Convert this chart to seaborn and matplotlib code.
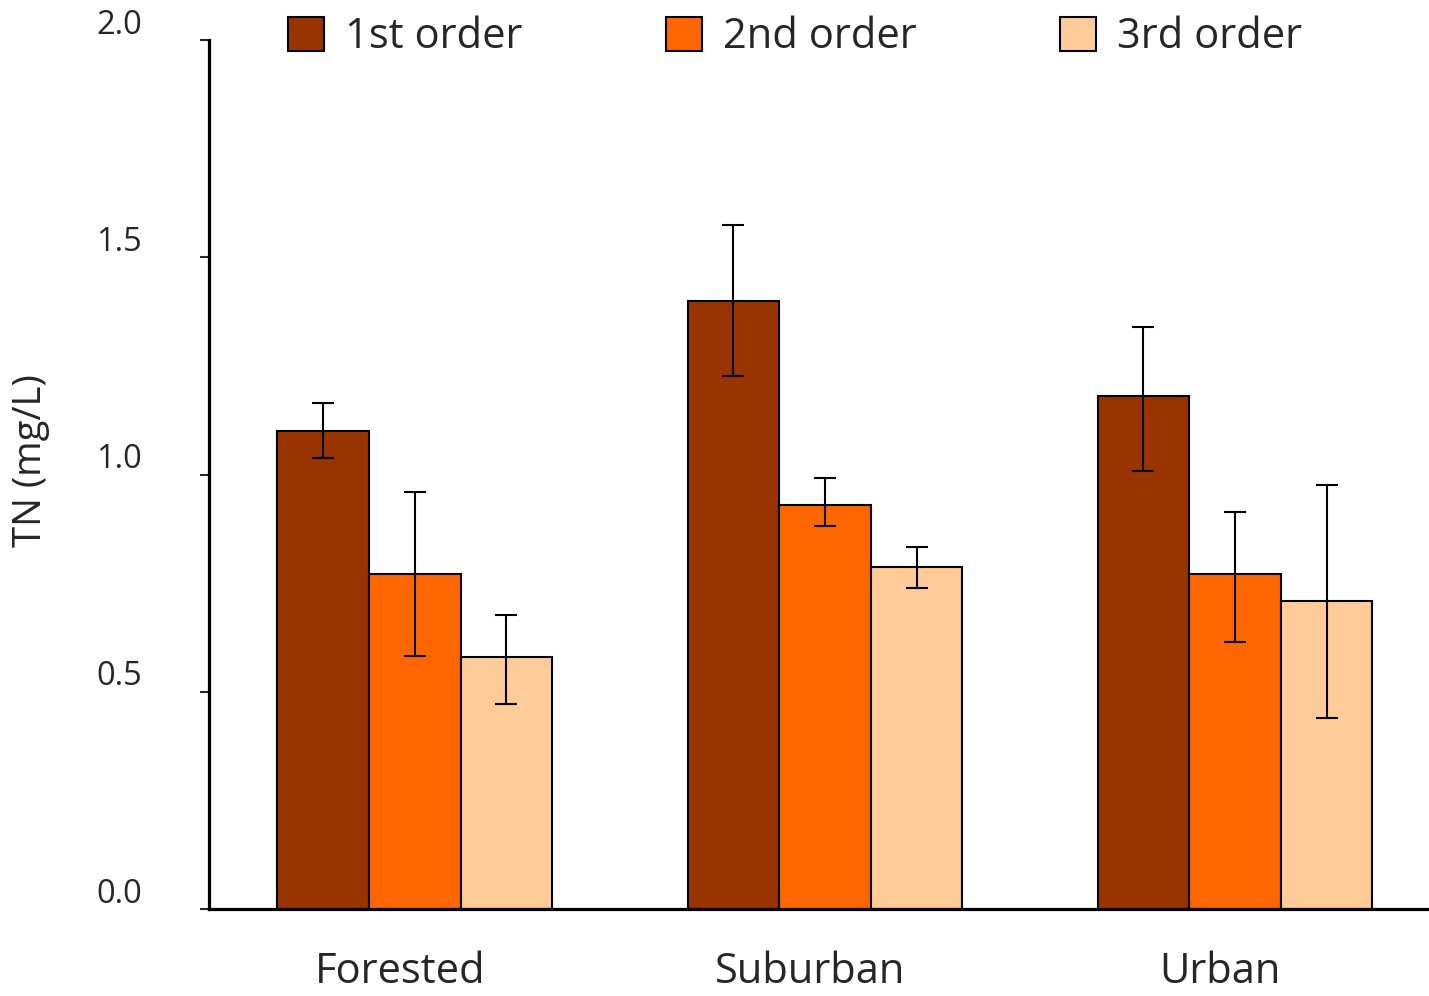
import numpy as np
import pandas as pd
import matplotlib
matplotlib.use("Agg")
import matplotlib.pyplot as plt
import seaborn as sns
from matplotlib.patches import Patch
from matplotlib.transforms import ScaledTranslation

# ---- data ----
land_use = ["Forested", "Suburban", "Urban"]
orders = ["1st order", "2nd order", "3rd order"]
tn_1st = [1.10, 1.40, 1.18]
tn_2nd = [0.77, 0.93, 0.77]
tn_3rd = [0.58, 0.787, 0.709]
err_hi_1st = [1.165, 1.574, 1.339]
err_lo_1st = [1.038, 1.227, 1.008]
err_hi_2nd = [0.960, 0.992, 0.914]
err_lo_2nd = [0.582, 0.881, 0.614]
err_hi_3rd = [0.677, 0.833, 0.976]
err_lo_3rd = [0.472, 0.739, 0.440]
colors = ["#993300", "#FF6600", "#FFCC99"]
yticks = [0.0, 0.5, 1.0, 1.5, 2.0]
ytick_labels = ["0.0", "0.5", "1.0", "1.5", "2.0"]

values = [tn_1st, tn_2nd, tn_3rd]
his = [err_hi_1st, err_hi_2nd, err_hi_3rd]
los = [err_lo_1st, err_lo_2nd, err_lo_3rd]

rows = []
for o, vals in zip(orders, values):
    for lu, v in zip(land_use, vals):
        rows.append({"Land use": lu, "Order": o, "TN": v})
df = pd.DataFrame(rows)

sns.set_style("white")
FONT = ["Open Sans", "DejaVu Sans"]
plt.rcParams["font.family"] = FONT

fig = plt.figure(figsize=(14.29, 9.96), dpi=100)
ax = fig.add_axes([209 / 1429, 1 - 909 / 996, 1 - 209 / 1429, (909 - 40) / 996])

sns.barplot(data=df, x="Land use", y="TN", hue="Order", order=land_use,
            hue_order=orders, palette=colors, width=0.67, gap=0,
            edgecolor="black", linewidth=1.5, errorbar=None, saturation=1,
            ax=ax, legend=False)

for cont, vals, hi, lo in zip(ax.containers, values, his, los):
    xs = [b.get_x() + b.get_width() / 2 for b in cont]
    yerr = np.array([np.array(vals) - np.array(lo), np.array(hi) - np.array(vals)])
    ax.errorbar(xs, vals, yerr=yerr, fmt="none", ecolor="black",
                elinewidth=1.5, capsize=8, capthick=1.5, zorder=5)

ax.set_xlim(-0.502, 2.473)
ax.set_ylim(0, 2.0)
ax.set_yticks(yticks)
ax.set_yticklabels(ytick_labels, fontsize=23.5)
ax.tick_params(axis="y", direction="out", length=6.5, width=1.5, pad=42, left=True)
ax.tick_params(axis="x", length=0, pad=30, labelsize=30)
ax.set_xlabel("")
ax.set_ylabel("TN (mg/L)", fontsize=27.5)
ax.yaxis.set_label_coords(-0.1303, 0.5155)

for side in ["top", "right"]:
    ax.spines[side].set_visible(False)
for side in ["left", "bottom"]:
    ax.spines[side].set_linewidth(2.3)
    ax.spines[side].set_color("black")

off_y = ScaledTranslation(0, 19 / 100, fig.dpi_scale_trans)
for lab in ax.get_yticklabels():
    lab.set_transform(lab.get_transform() + off_y)
off_x = ScaledTranslation(-15 / 100, 0, fig.dpi_scale_trans)
for lab in ax.get_xticklabels():
    lab.set_transform(lab.get_transform() + off_x)

handles = [Patch(facecolor=c, edgecolor="black", linewidth=1.5) for c in colors]
fig.legend(handles, orders, ncol=3, loc="upper left",
           bbox_to_anchor=(275 / 1429, 1 - 4 / 996), frameon=False,
           fontsize=30, handlelength=0.87, handleheight=0.87,
           handletextpad=0.5, columnspacing=3.45, borderaxespad=0, borderpad=0.3)

fig.savefig("out.png", dpi=100)
